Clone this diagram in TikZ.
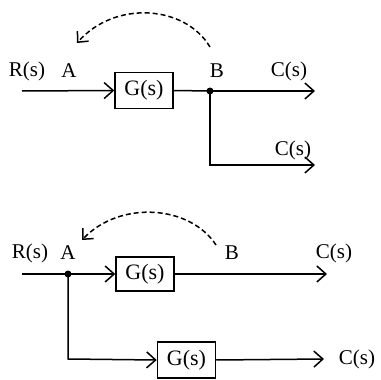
\documentclass[tikz,border=0pt]{standalone}
\usepackage{fontspec}
\setmainfont{Liberation Serif}
\usetikzlibrary{arrows.meta}
\begin{document}
\begin{tikzpicture}[x=1pt,y=-1pt,
  line width=1.5pt,
  lbl/.style={font=\fontsize{21}{23}\selectfont, inner sep=0pt},
  blk/.style={draw, line width=1.5pt, minimum width=58pt, minimum height=36pt, inner sep=0pt, font=\fontsize{22}{24}\selectfont},
  arr/.style={-{Straight Barb[length=9pt,width=16pt,line width=1.5pt]}},
  darr/.style={dash pattern=on 5pt off 3pt, -{Straight Barb[length=8pt,width=15pt,line width=1.5pt]}},
  jdot/.style={circle, fill, inner sep=0pt, minimum size=7pt}]
\useasboundingbox (0,0) rectangle (381,380);
% ---------- top diagram ----------
\coordinate (in1) at (22,91);
\node[blk] (g1) at (144,90.5) {G(s)};
\node[jdot] (b1) at (210,91) {};
\coordinate (out1) at (315,91);
\coordinate (cn1) at (210,165);
\coordinate (out2) at (315,165);
\coordinate (ds1) at (210,47);
\coordinate (de1) at (77,43);
\node[lbl] (r1) at (27,71) {R(s)};
\node[lbl] (a1) at (69,71) {A};
\node[lbl] (bl1) at (217,71) {B};
\node[lbl] (c1) at (289,71) {C(s)};
\node[lbl] (c2) at (293,150) {C(s)};
\draw[arr] (in1) -- (g1.west);
\draw (g1.east) -- (b1.center);
\draw[arr] (b1.center) -- (out1);
\draw[arr] (b1.center) -- (cn1) -- (out2);
\draw[darr] (ds1) .. controls (185,5) and (115,0) .. (de1);
% ---------- bottom diagram ----------
\coordinate (in2) at (22,274);
\node[jdot] (a2) at (68,274) {};
\node[blk, minimum height=34pt] (g2) at (145,274) {G(s)};
\coordinate (out3) at (327,274);
\coordinate (cn2) at (68,359);
\node[blk] (g3) at (186.5,360) {G(s)};
\coordinate (out4) at (324,359);
\coordinate (ds2) at (216,245);
\coordinate (de2) at (82,240);
\node[lbl] (r2) at (30,253) {R(s)};
\node[lbl] (al2) at (68,253) {A};
\node[lbl] (bl2) at (232,253) {B};
\node[lbl] (c3) at (334,253) {C(s)};
\node[lbl] (c4) at (357,359) {C(s)};
\draw (in2) -- (a2.center);
\draw[arr] (a2.center) -- (g2.west);
\draw[arr] (g2.east) -- (out3);
\draw[arr] (a2.center) -- (cn2) -- (g3.west);
\draw[arr] (g3.east) -- (out4);
\draw[darr] (ds2) .. controls (190,205) and (120,200) .. (de2);
\end{tikzpicture}
\end{document}
